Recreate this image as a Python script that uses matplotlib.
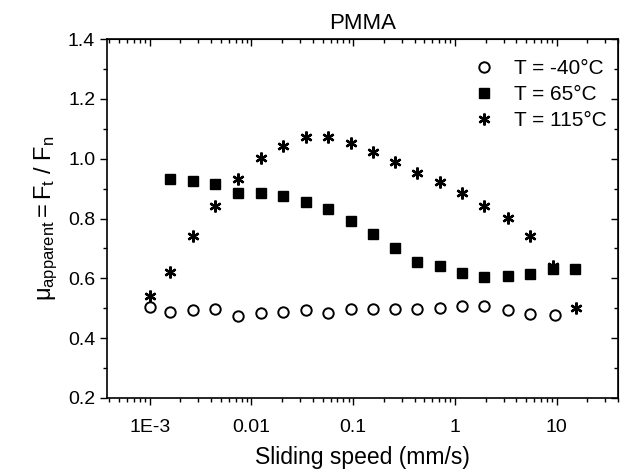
import matplotlib
matplotlib.use('Agg')
import matplotlib.pyplot as plt
from matplotlib.ticker import LogLocator, MultipleLocator, NullFormatter

plt.rcParams['font.family'] = ['Liberation Sans', 'DejaVu Sans']
plt.rcParams['mathtext.fontset'] = 'custom'
plt.rcParams['mathtext.rm'] = 'Liberation Sans'
plt.rcParams['mathtext.it'] = 'Liberation Sans'

# T = -40 C
speed_cold = [1e-3, 1.6e-3, 2.67e-3, 4.4e-3, 7.4e-3, 0.0123, 0.0204, 0.034, 0.056, 0.094,
              0.155, 0.256, 0.42, 0.72, 1.18, 1.93, 3.3, 5.4, 9.6]
mu_cold = [0.505, 0.486, 0.493, 0.497, 0.474, 0.485, 0.488, 0.493, 0.485, 0.496,
           0.496, 0.496, 0.499, 0.500, 0.507, 0.506, 0.493, 0.480, 0.477]

# T = 65 C
speed_mid = [1.6e-3, 2.67e-3, 4.4e-3, 7.4e-3, 0.0123, 0.0204, 0.034, 0.056, 0.094,
             0.155, 0.256, 0.42, 0.72, 1.18, 1.93, 3.3, 5.4, 9.2, 15.0]
mu_mid = [0.931, 0.925, 0.914, 0.886, 0.885, 0.875, 0.854, 0.833, 0.793,
          0.747, 0.700, 0.655, 0.640, 0.619, 0.605, 0.608, 0.613, 0.632, 0.630]

# T = 115 C
speed_hot = [1e-3, 1.6e-3, 2.67e-3, 4.4e-3, 7.4e-3, 0.0123, 0.0204, 0.034, 0.056, 0.094,
             0.155, 0.256, 0.42, 0.72, 1.18, 1.93, 3.3, 5.4, 9.2, 15.5]
mu_hot = [0.541, 0.620, 0.740, 0.842, 0.931, 1.001, 1.041, 1.071, 1.071, 1.052,
          1.021, 0.990, 0.951, 0.921, 0.884, 0.842, 0.802, 0.741, 0.642, 0.502]

xticks = [1e-3, 1e-2, 1e-1, 1, 10]
xticklabels = ['1E-3', '0.01', '0.1', '1', '10']

fig = plt.figure(figsize=(6.23, 4.70), dpi=100)
ax = fig.add_axes([0.1717, 0.1532, 0.8203, 0.7638])

ax.plot(speed_cold, mu_cold, 'o', mfc='white', mec='black', mew=1.4, ms=7.5,
        label='T = -40\u00b0C')
ax.plot(speed_mid, mu_mid, 's', mfc='black', mec='black', ms=7.5,
        label='T = 65\u00b0C')
ax.plot(speed_hot, mu_hot, marker=(6, 2, 0), ls='none', mec='black', mew=1.7, ms=8.5,
        label='T = 115\u00b0C')

ax.set_xscale('log')
ax.set_xlim(3.8e-4, 40)
ax.set_ylim(0.2, 1.4)
ax.set_xticks(xticks)
ax.set_xticklabels(xticklabels)
ax.xaxis.set_minor_locator(LogLocator(base=10, subs=range(2, 10), numticks=20))
ax.xaxis.set_minor_formatter(NullFormatter())
ax.yaxis.set_major_locator(MultipleLocator(0.2))
ax.yaxis.set_minor_locator(MultipleLocator(0.1))
ax.yaxis.set_major_formatter(plt.FormatStrFormatter('%.1f'))

ax.tick_params(which='major', direction='out', length=5, width=1, labelsize=14)
ax.tick_params(which='minor', direction='out', length=3, width=1)
ax.tick_params(axis='x', which='major', pad=10)
ax.tick_params(top=False, right=False, which='both')
for s in ax.spines.values():
    s.set_linewidth(1.2)

top = ax.secondary_xaxis('top')
top.set_xticks(xticks)
top.xaxis.set_minor_locator(LogLocator(base=10, subs=range(2, 10), numticks=20))
top.tick_params(which='major', direction='in', length=5, width=1, labeltop=False)
top.tick_params(which='minor', direction='in', length=3, width=1, labeltop=False)

right = ax.secondary_yaxis('right')
right.yaxis.set_major_locator(MultipleLocator(0.2))
right.yaxis.set_minor_locator(MultipleLocator(0.1))
right.tick_params(which='major', direction='in', length=5, width=1, labelright=False)
right.tick_params(which='minor', direction='in', length=3, width=1, labelright=False)

ax.set_xlabel('Sliding speed (mm/s)', fontsize=16.5, labelpad=7)
ax.set_ylabel(r'$\mu_{\mathrm{apparent}}\mathrm{= F_t\ /\ F_n}$', fontsize=17, labelpad=6)
ax.set_title('PMMA', fontsize=16, pad=7)

ax.legend(loc='upper right', bbox_to_anchor=(1.016, 1.0), frameon=False, fontsize=15,
          handletextpad=0.9, borderaxespad=0.55, labelspacing=0.35, handlelength=1.0)

fig.savefig('out.png', dpi=100)
